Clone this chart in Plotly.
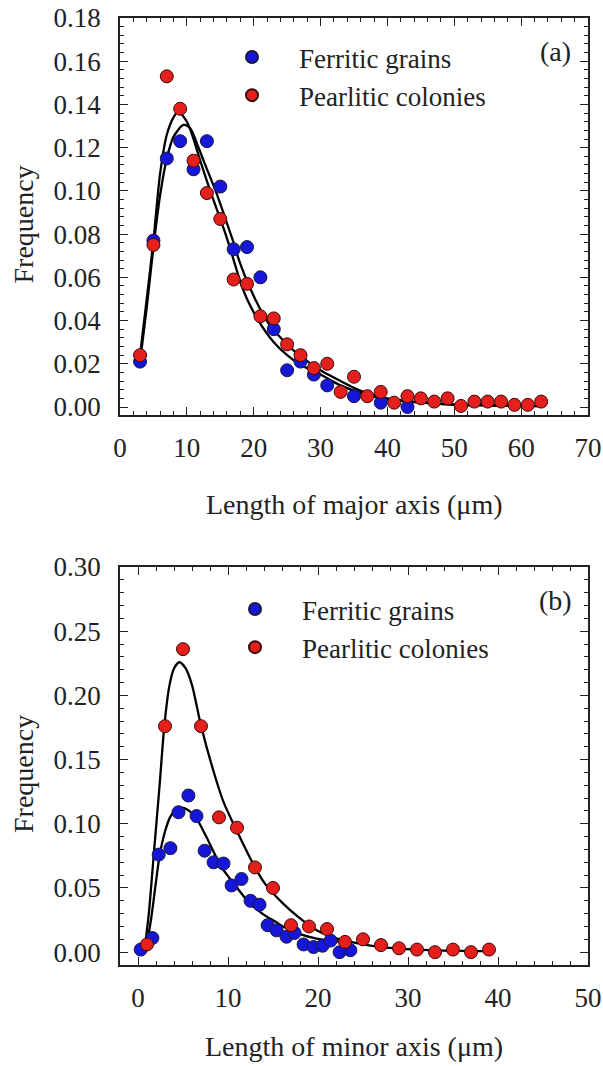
import plotly.graph_objects as go

# ---------------- Panel (a): length of major axis ----------------
a_x_fer = [3, 5, 7, 9, 11, 13, 15, 17, 19, 21, 23, 25, 27, 29, 31, 35, 39, 43]
a_y_fer = [0.021, 0.077, 0.115, 0.123, 0.110, 0.123, 0.102, 0.073, 0.074, 0.060,
           0.036, 0.017, 0.021, 0.015, 0.010, 0.005, 0.002, 0.000]

a_x_pea = [3, 5, 7, 9, 11, 13, 15, 17, 19, 21, 23, 25, 27, 29, 31, 33, 35, 37, 39,
           41, 43, 45, 47, 49, 51, 53, 55, 57, 59, 61, 63]
a_y_pea = [0.024, 0.075, 0.153, 0.138, 0.114, 0.099, 0.087, 0.059, 0.057, 0.042,
           0.041, 0.029, 0.024, 0.018, 0.020, 0.007, 0.014, 0.005, 0.007, 0.002,
           0.005, 0.004, 0.0025, 0.004, 0.0005, 0.0025, 0.0025, 0.0025, 0.001,
           0.001, 0.0025]

a_fit_x_pea = [3, 4, 5, 6, 7, 8, 8.7, 10, 11, 12, 13.5, 15, 16, 17, 18.2, 19, 20.7,
               23, 25, 27, 30, 33, 36, 40, 45, 50, 55, 63]
a_fit_y_pea = [0.024, 0.050, 0.077, 0.108, 0.126, 0.134, 0.1367, 0.132, 0.124,
               0.114, 0.100, 0.087, 0.078, 0.068, 0.056, 0.050, 0.040, 0.030,
               0.024, 0.0195, 0.015, 0.010, 0.0065, 0.0035, 0.002, 0.001, 0.0007,
               0.0004]

a_fit_x_fer = [3, 4, 5, 6, 7, 8, 9.5, 10.5, 11.5, 12.5, 14.3, 15, 16, 17, 17.8,
               19.6, 22.2, 25, 27, 30, 33, 36, 40, 45, 50, 55, 63]
a_fit_y_fer = [0.021, 0.046, 0.074, 0.098, 0.115, 0.125, 0.1305, 0.129, 0.122,
               0.114, 0.100, 0.094, 0.085, 0.076, 0.068, 0.054, 0.0387, 0.029,
               0.0235, 0.017, 0.012, 0.0075, 0.004, 0.0022, 0.0012, 0.0008, 0.0004]

# ---------------- Panel (b): length of minor axis ----------------
b_x_fer = [0.3, 1.6, 2.3, 3.6, 4.5, 5.6, 6.5, 7.4, 8.4, 9.5, 10.4, 11.5, 12.5,
           13.5, 14.4, 15.4, 16.5, 17.4, 18.4, 19.5, 20.5, 21.4, 22.4, 23.6]
b_y_fer = [0.002, 0.011, 0.076, 0.081, 0.109, 0.122, 0.106, 0.079, 0.070, 0.069,
           0.052, 0.057, 0.040, 0.037, 0.021, 0.017, 0.012, 0.015, 0.006, 0.004,
           0.005, 0.009, 0.000, 0.0015]

b_x_pea = [1, 3, 5, 7, 9, 11, 13, 15, 17, 19, 21, 23, 25, 27, 29, 31, 33, 35, 37, 39]
b_y_pea = [0.006, 0.176, 0.236, 0.176, 0.105, 0.097, 0.066, 0.050, 0.021, 0.020,
           0.018, 0.008, 0.010, 0.0055, 0.003, 0.002, 0.000, 0.002, 0.000, 0.002]

b_fit_x_pea = [0.8, 1.2, 1.8, 2.4, 2.93, 3.5, 4.0, 4.6, 5.3, 6.0, 7.0, 8.26, 9.5,
               11.15, 13, 14.1, 16.1, 17.8, 19.85, 21.5, 23.6, 27, 32.4, 39]
b_fit_y_pea = [0.006, 0.030, 0.080, 0.130, 0.1765, 0.208, 0.221, 0.2258, 0.221,
               0.208, 0.1765, 0.144, 0.117, 0.092, 0.066, 0.0534, 0.038, 0.0275,
               0.017, 0.012, 0.008, 0.004, 0.0016, 0.0008]

b_fit_x_fer = [0.96, 1.5, 2.0, 2.44, 3.0, 3.56, 4.2, 4.85, 5.5, 6.5, 7.44, 9.3,
               10.8, 12.3, 14.0, 15.2, 16.1, 18.0, 19.85, 22.1, 23.6]
b_fit_y_fer = [0.005, 0.028, 0.055, 0.077, 0.094, 0.105, 0.111, 0.1125, 0.111,
               0.104, 0.092, 0.066, 0.052, 0.039, 0.029, 0.024, 0.020, 0.014,
               0.0106, 0.0085, 0.0075]

series_names = ["Ferritic grains", "Pearlitic colonies"]
panel_labels = ["(a)", "(b)"]
x_titles = ["Length of major axis (\u03bcm)", "Length of minor axis (\u03bcm)"]
y_title = "Frequency"

FONT = "Liberation Serif, Times New Roman, serif"
BLUE = "#1616d8"
RED = "#e41f1c"
INK = "#222"
PAD = "\u00a0" * 4

W, H = 603, 1066
def px_x(p):
    return p / W
def px_y(p):
    return 1 - p / H

fig = go.Figure()

def add_panel(xa, ya, leg, fx_fer, fy_fer, fx_pea, fy_pea, x_fer, y_fer, x_pea, y_pea):
    for fx, fy in ((fx_fer, fy_fer), (fx_pea, fy_pea)):
        fig.add_trace(go.Scatter(x=fx, y=fy, mode="lines",
                                 line=dict(color="black", width=2.3, shape="spline", smoothing=0.8),
                                 xaxis=xa, yaxis=ya, showlegend=False, hoverinfo="skip"))
    fig.add_trace(go.Scatter(x=x_fer, y=y_fer, mode="markers", name=PAD + series_names[0],
                             marker=dict(color=BLUE, size=13, line=dict(color="#1a1a40", width=1)),
                             xaxis=xa, yaxis=ya, legend=leg))
    fig.add_trace(go.Scatter(x=x_pea, y=y_pea, mode="markers", name=PAD + series_names[1],
                             marker=dict(color=RED, size=13, line=dict(color="#3a0a0a", width=1)),
                             xaxis=xa, yaxis=ya, legend=leg))

add_panel("x", "y", "legend", a_fit_x_fer, a_fit_y_fer, a_fit_x_pea, a_fit_y_pea,
          a_x_fer, a_y_fer, a_x_pea, a_y_pea)
add_panel("x2", "y2", "legend2", b_fit_x_fer, b_fit_y_fer, b_fit_x_pea, b_fit_y_pea,
          b_x_fer, b_y_fer, b_x_pea, b_y_pea)

def xaxis(rng, anchor, minor_dt):
    return dict(range=rng, domain=[px_x(120), px_x(588)], anchor=anchor, automargin=False,
                showline=True, linecolor=INK, linewidth=1.6, mirror="allticks",
                ticks="inside", ticklen=8, tickwidth=1.3, tickcolor=INK,
                dtick=10, tick0=0, showgrid=False, zeroline=False,
                tickfont=dict(family=FONT, size=27, color=INK),
                ticklabelstandoff=8,
                minor=dict(ticks="inside", ticklen=4, tickwidth=1.1, tickcolor=INK,
                           dtick=minor_dt, tick0=0, showgrid=False))

def yaxis(rng, anchor, dom, dt, minor_dt):
    return dict(range=rng, domain=dom, anchor=anchor, automargin=False,
                showline=True, linecolor=INK, linewidth=1.6, mirror="allticks",
                ticks="inside", ticklen=8, tickwidth=1.3, tickcolor=INK,
                dtick=dt, tick0=0, tickformat=".2f", showgrid=False, zeroline=False,
                tickfont=dict(family=FONT, size=27, color=INK),
                ticklabelstandoff=12,
                minor=dict(ticks="inside", ticklen=4, tickwidth=1.1, tickcolor=INK,
                           dtick=minor_dt, tick0=0, showgrid=False))

legend_common = dict(font=dict(family=FONT, size=27, color=INK), bgcolor="rgba(0,0,0,0)",
                     itemsizing="constant", xanchor="left", yanchor="top", tracegroupgap=0)

annotations = []
for lbl, xt, ytop, ybot, xtitle_y in [
        (panel_labels[0], x_titles[0], 18, 415, 505),
        (panel_labels[1], x_titles[1], 567, 965, 1046)]:
    annotations.append(dict(text=lbl, x=px_x(555), y=px_y(ytop + 33), xref="paper", yref="paper",
                            showarrow=False, xanchor="center", yanchor="middle",
                            font=dict(family=FONT, size=28, color=INK)))
    annotations.append(dict(text=xt, x=px_x(354), y=px_y(xtitle_y), xref="paper", yref="paper",
                            showarrow=False, xanchor="center", yanchor="middle",
                            font=dict(family=FONT, size=28, color=INK)))
    annotations.append(dict(text=y_title, x=px_x(23), y=px_y((ytop + ybot) / 2 + 8),
                            xref="paper", yref="paper",
                            showarrow=False, xanchor="center", yanchor="middle", textangle=-90,
                            font=dict(family=FONT, size=28, color=INK)))

fig.update_layout(
    width=W, height=H, margin=dict(l=0, r=0, t=0, b=0, autoexpand=False),
    paper_bgcolor="white", plot_bgcolor="white",
    xaxis=xaxis([0, 70], "y", 2),
    yaxis=yaxis([-0.0037, 0.18], "x", [px_y(415), px_y(18)], 0.02, 0.004),
    xaxis2=xaxis([-2, 50], "y2", 2),
    yaxis2=yaxis([-0.010, 0.30], "x2", [px_y(965), px_y(567)], 0.05, 0.01),
    legend=dict(x=px_x(232), y=px_y(33), **legend_common),
    legend2=dict(x=px_x(235), y=px_y(585), **legend_common),
    annotations=annotations,
    showlegend=True,
)

fig.write_html("out.html")
